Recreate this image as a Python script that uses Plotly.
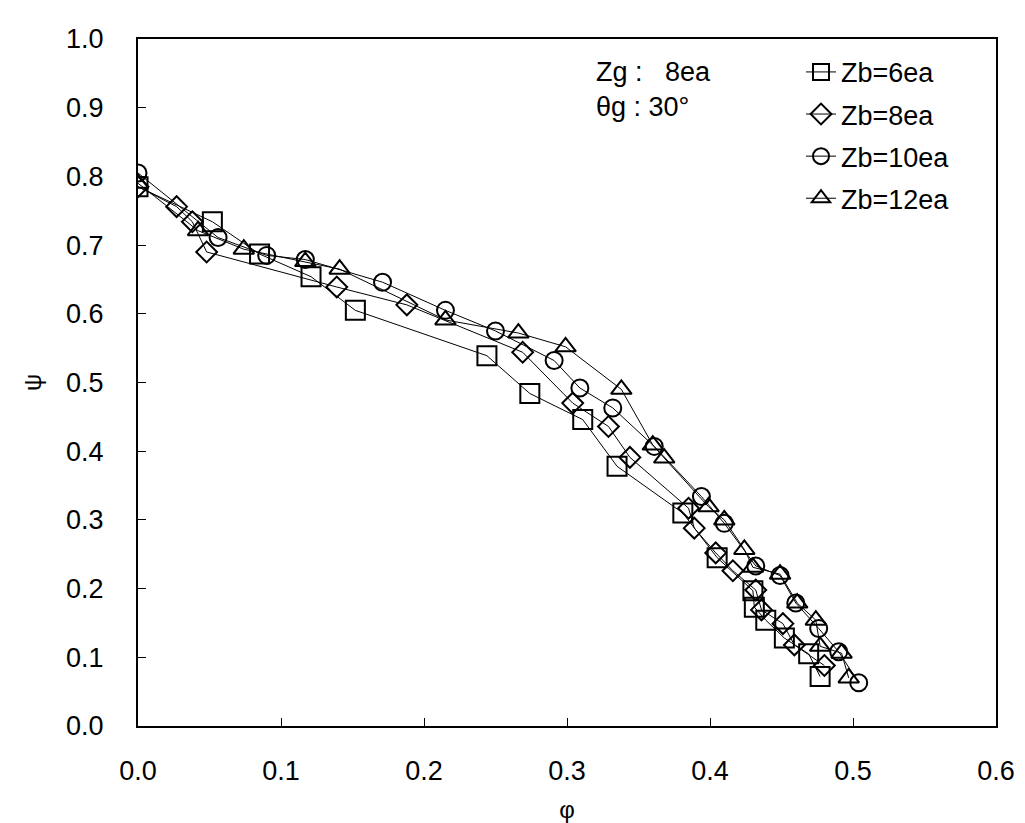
import plotly.graph_objects as go

# ---- data (phi, psi) ----
phi_zb6 = [0.0, 0.052, 0.085, 0.121, 0.152, 0.244, 0.274, 0.311, 0.335, 0.381, 0.405, 0.430, 0.431, 0.439, 0.452, 0.469, 0.477]
psi_zb6 = [0.785, 0.734, 0.687, 0.654, 0.605, 0.539, 0.484, 0.446, 0.378, 0.310, 0.245, 0.197, 0.173, 0.154, 0.128, 0.105, 0.072]

phi_zb8 = [0.0, 0.027, 0.038, 0.048, 0.139, 0.188, 0.269, 0.304, 0.329, 0.344, 0.385, 0.389, 0.404, 0.416, 0.432, 0.436, 0.451, 0.459, 0.480]
psi_zb8 = [0.785, 0.756, 0.734, 0.690, 0.639, 0.613, 0.544, 0.470, 0.436, 0.391, 0.317, 0.288, 0.252, 0.226, 0.198, 0.169, 0.149, 0.118, 0.088]

phi_zb10 = [0.0, 0.056, 0.090, 0.117, 0.171, 0.215, 0.250, 0.291, 0.309, 0.332, 0.361, 0.394, 0.410, 0.432, 0.449, 0.460, 0.476, 0.490, 0.504]
psi_zb10 = [0.805, 0.711, 0.685, 0.679, 0.646, 0.605, 0.575, 0.532, 0.492, 0.463, 0.407, 0.334, 0.295, 0.233, 0.219, 0.179, 0.142, 0.108, 0.063]

phi_zb12 = [0.0, 0.042, 0.074, 0.117, 0.141, 0.215, 0.266, 0.299, 0.338, 0.360, 0.368, 0.399, 0.410, 0.424, 0.430, 0.449, 0.461, 0.474, 0.477, 0.492, 0.497]
psi_zb12 = [0.790, 0.721, 0.694, 0.676, 0.665, 0.591, 0.572, 0.552, 0.490, 0.409, 0.390, 0.319, 0.300, 0.257, 0.231, 0.221, 0.179, 0.154, 0.116, 0.106, 0.070]

series_names = ["Zb=6ea", "Zb=8ea", "Zb=10ea", "Zb=12ea"]
series_symbols = ["square-open", "diamond-open", "circle-open", "triangle-up-open"]
series_sizes = [19, 16, 17, 18]

x_ticks = [0.0, 0.1, 0.2, 0.3, 0.4, 0.5, 0.6]
y_ticks = [0.0, 0.1, 0.2, 0.3, 0.4, 0.5, 0.6, 0.7, 0.8, 0.9, 1.0]

FONT = "Liberation Sans, Arial, sans-serif"

fig = go.Figure()
all_x = [phi_zb6, phi_zb8, phi_zb10, phi_zb12]
all_y = [psi_zb6, psi_zb8, psi_zb10, psi_zb12]
for i, (xs, ys) in enumerate(zip(all_x, all_y)):
    fig.add_trace(go.Scatter(
        x=xs, y=ys, mode="lines+markers", name=series_names[i],
        legendgroup=series_names[i],
        line=dict(color="black", width=1),
        marker=dict(symbol=series_symbols[i], size=series_sizes[i], color="black",
                    line=dict(color="black", width=2)),
    ))

axis_common = dict(
    showline=True, linecolor="black", linewidth=2, mirror=True,
    ticks="inside", ticklen=8, tickcolor="black", tickwidth=1,
    showgrid=False, zeroline=False, tickformat=".1f",
    tickfont=dict(family=FONT, size=27, color="black"),
)
fig.update_xaxes(range=[0, 0.6], tickvals=x_ticks, ticklabelstandoff=20,
                 title=dict(text="φ", font=dict(family=FONT, size=24, color="black"), standoff=16),
                 **axis_common)
fig.update_yaxes(range=[0, 1.0], tickvals=y_ticks, ticklabelstandoff=27,
                 title=dict(text="ψ", font=dict(family=FONT, size=24, color="black"), standoff=18),
                 **axis_common)

fig.add_annotation(xref="paper", yref="paper", x=(586 - 130) / 858, y=(727 - 64) / 696,
                   xanchor="left", yanchor="middle", showarrow=False,
                   text="Zg :\u00a0\u00a0 8ea", font=dict(family=FONT, size=27, color="black"))
fig.add_annotation(xref="paper", yref="paper", x=(586 - 130) / 858, y=(727 - 100) / 696,
                   xanchor="left", yanchor="middle", showarrow=False,
                   text="θg : 30°", font=dict(family=FONT, size=27, color="black"))

fig.update_layout(
    width=1025, height=823,
    margin=dict(l=130, r=37, t=31, b=96),
    paper_bgcolor="white", plot_bgcolor="white",
    font=dict(family=FONT, color="black"),
    legend=dict(x=(793 - 130) / 858, y=(727 - 40) / 696, xanchor="left", yanchor="top",
                bgcolor="rgba(0,0,0,0)", borderwidth=0,
                font=dict(family=FONT, size=27, color="black"),
                traceorder="grouped", tracegroupgap=4, itemsizing="trace"),
    showlegend=True,
)

fig.write_html("out.html")
